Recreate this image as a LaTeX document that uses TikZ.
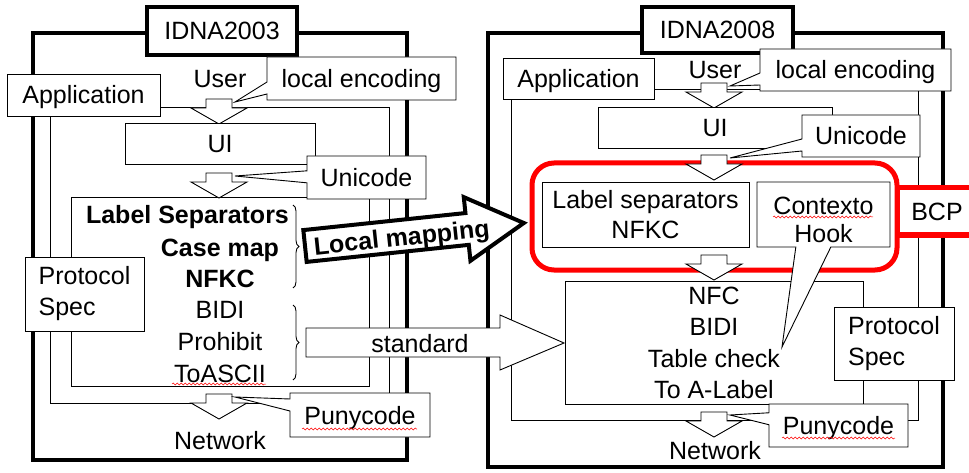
\documentclass[tikz,border=0pt]{standalone}
\usepackage{fontspec}
\setmainfont{Liberation Sans}
\usetikzlibrary{shapes.callouts,decorations.pathreplacing,decorations.pathmorphing}

\tikzset{
	big/.style={font=\fontsize{25}{31}\selectfont},
	bigbold/.style={font=\fontsize{25}{31}\selectfont\bfseries, text height=18pt, text depth=0pt},
	lbl/.style={big, text height=18pt, text depth=0pt},
	heavy/.style={line width=4.6pt},
	hair/.style={line width=0.9pt},
	box/.style={draw, fill=white, hair, inner sep=0pt, big},
	callbox/.style={rectangle callout, draw, fill=white, hair, inner sep=0pt, callout pointer width=12pt, lbl},
	titlebox/.style={draw, fill=white, line width=4.2pt, inner sep=0pt, lbl},
	bcpline/.style={draw=red, line width=5pt},
	spell/.style={red, line width=0.5pt, decorate, decoration={snake, amplitude=1pt, segment length=4pt}},
	dnarrow/.pic={
		\draw[hair, fill=white] (-13,0) -- (13,0) -- (13,9) -- (28,9) -- (0,25) -- (-28,9) -- (-13,9) -- cycle;
		\coordinate (-r) at (16,3);
	}
}

\begin{document}
\begin{tikzpicture}[x=1pt,y=-1pt]
	\path[use as bounding box] (0,0) rectangle (969,473);

	\draw[heavy] (33,33) rectangle (407,460);
	\draw[heavy] (488,33) rectangle (943,467);
	\draw[hair] (50,107) rectangle (389,403);
	\draw[hair] (71,197) rectangle (369,386);
	\draw[hair] (511,89) rectangle (918,420);

	\node[titlebox, minimum width=150pt, minimum height=48pt] (idna03) at (222,31) {IDNA2003};
	\node[titlebox, minimum width=151pt, minimum height=46pt] (idna08) at (717.5,30) {IDNA2008};

	\node[lbl] (userL) at (220,79) {User};
	\node[box, lbl, minimum width=153pt, minimum height=42pt] (appL) at (83.5,95) {Application};
	\pic (arrL1) at (219,99) {dnarrow};
	\node[box, lbl, minimum width=190pt, minimum height=41pt] (uiL) at (220,143.5) {UI};
	\pic (arrL2) at (219,173) {dnarrow};
	\node[callbox, minimum width=189pt, minimum height=43pt, callout absolute pointer={(arrL1-r)}] (encL) at (361.5,78.5) {local encoding};
	\node[callbox, minimum width=119pt, minimum height=43pt, callout absolute pointer={(arrL2-r)}] (uniL) at (366.5,177.5) {Unicode};

	\node[bigbold] (sepL) at (187.5,215) {Label Separators};
	\node[bigbold] (caseL) at (220,247) {Case map};
	\node[bigbold] (nfkcL) at (220,278) {NFKC};
	\node[lbl] (bidiL) at (220,309) {BIDI};
	\node[lbl] (prohL) at (220,341) {Prohibit};
	\node[lbl] (asciiL) at (220,373) {ToASCII};
	\draw[hair, decorate, decoration={brace, amplitude=6pt}] (293,205) -- (293,288);
	\draw[hair, decorate, decoration={brace, amplitude=6pt}] (293,305) -- (293,380);
	\draw[spell] (172,384) -- (266,384);

	\node[box, align=left, minimum width=119pt, minimum height=74pt] (protoL) at (84.5,294) {Protocol\\Spec};

	\pic (arrL3) at (219,394) {dnarrow};
	\node[callbox, minimum width=140pt, minimum height=44pt, callout absolute pointer={(arrL3-r)}] (punyL) at (360,415) {Punycode};
	\draw[spell] (302,429) -- (417,429);
	\node[lbl] (netL) at (220,440) {Network};

	\node[lbl] (userR) at (715,70) {User};
	\node[box, lbl, minimum width=151pt, minimum height=41pt] (appR) at (578.5,78.5) {Application};
	\pic (arrR1) at (714,83) {dnarrow};
	\node[box, lbl, minimum width=234pt, minimum height=41pt] (uiR) at (715,127.5) {UI};
	\node[callbox, minimum width=191pt, minimum height=42pt, callout absolute pointer={(arrR1-r)}] (encR) at (855.5,70) {local encoding};

	\draw[bcpline, rounded corners=22pt] (532,163) rectangle (897,270);
	\node[bcpline, fill=white, lbl, inner sep=0pt, minimum width=80pt, minimum height=47pt] (bcp) at (937,211.5) {BCP};
	\pic (arrR2) at (714,155) {dnarrow};
	\node[callbox, minimum width=118pt, minimum height=42pt, callout absolute pointer={(arrR2-r)}] (uniR) at (861,136) {Unicode};
	\pic (arrR3) at (714,255) {dnarrow};
	\node[box, align=center, minimum width=207pt, minimum height=65pt, font=\fontsize{25}{30}\selectfont] (sepR) at (645.5,214.5) {Label separators\\NFKC};

	\node[box, align=center, minimum width=298pt, minimum height=123pt, font=\fontsize{25}{31.5}\selectfont] (nfcR) at (714,343) {NFC\\BIDI\\Table check\\To A-Label};
	\coordinate (hookpt) at (782,347);
	\node[callbox, align=center, callout pointer width=35pt, minimum width=133pt, minimum height=65pt, text height=56pt, text depth=0pt, font=\fontsize{25}{28}\selectfont, callout absolute pointer={(hookpt)}] (hookR) at (823.5,214.5) {Contexto\\Hook};
	\draw[spell] (773,217) -- (873,217);
	\node[box, align=left, minimum width=120pt, minimum height=73pt] (protoR) at (894,343.5) {Protocol\\Spec};

	\pic (arrR4) at (714,412) {dnarrow};
	\node[callbox, minimum width=139pt, minimum height=43pt, callout absolute pointer={(arrR4-r)}] (punyR) at (838.5,425.5) {Punycode};
	\draw[spell] (782,438) -- (895,438);
	\node[lbl] (netR) at (715,450) {Network};

	\draw[hair, fill=white] (306,328) -- (500,328) -- (500,315) -- (564,343) -- (500,370) -- (500,357) -- (306,357) -- cycle;
	\node[lbl] (stdtxt) at (420,343) {standard};

	\begin{scope}[shift={(305,246)}, rotate=6]
		\draw[line width=4pt, fill=white, line join=miter] (0,-16) -- (163,-16) -- (163,-32) -- (220,0) -- (163,32) -- (163,16) -- (0,16) -- cycle;
		\node[bigbold, transform shape] (maptxt) at (97,1) {Local mapping};
	\end{scope}
\end{tikzpicture}
\end{document}
